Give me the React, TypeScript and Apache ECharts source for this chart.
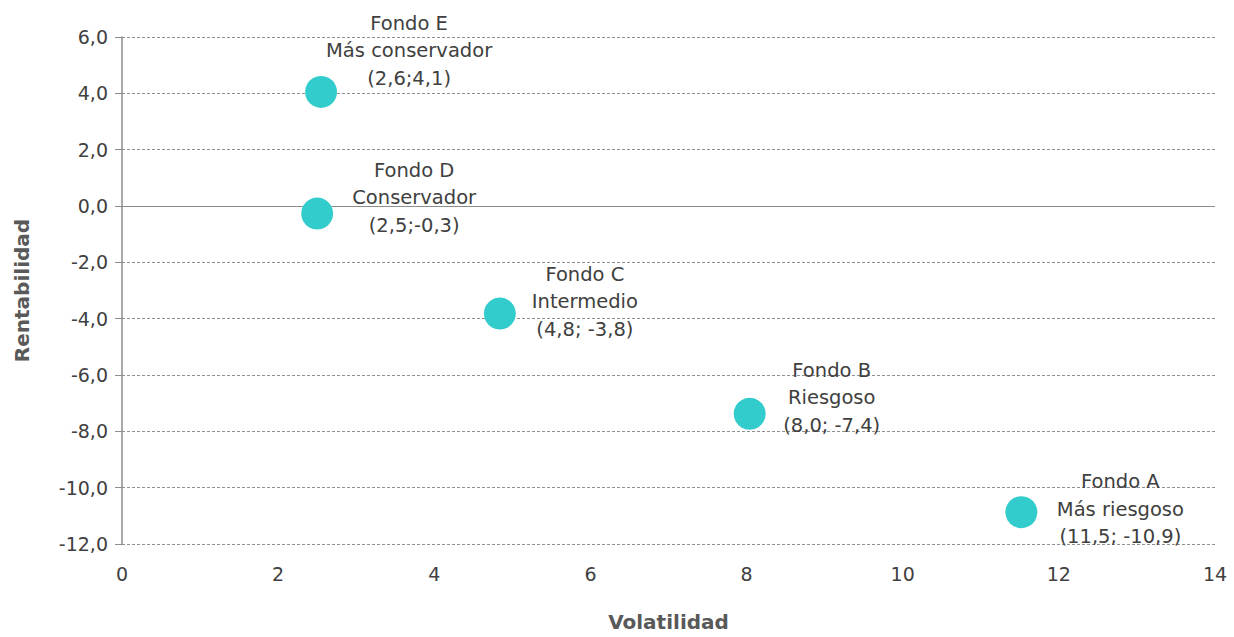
import React, { useEffect, useRef } from "react";
import * as echarts from "echarts";

const fundNames = ["Fondo E", "Fondo D", "Fondo C", "Fondo B", "Fondo A"];
const fundTypes = ["Más conservador", "Conservador", "Intermedio", "Riesgoso", "Más riesgoso"];
const fundCoords = ["(2,6;4,1)", "(2,5;-0,3)", "(4,8; -3,8)", "(8,0; -7,4)", "(11,5; -10,9)"];
const volatility = [2.55, 2.5, 4.84, 8.04, 11.52];
const returns = [4.05, -0.27, -3.82, -7.38, -10.87];
const labelOffsets = [[88, -41], [97, -16], [85, -12], [82, -16], [99, -3]];

const FONT = "'DejaVu Sans', sans-serif";

export default function App() {
  const ref = useRef<HTMLDivElement>(null);
  useEffect(() => {
    if (!ref.current) return;
    const chart = echarts.init(ref.current, undefined, { renderer: "svg" });
    const data = volatility.map((v, i) => ({
      value: [v, returns[i]],
      label: {
        show: true,
        position: "inside",
        offset: labelOffsets[i],
        align: "center",
        verticalAlign: "middle",
        formatter: `${fundNames[i]}\n${fundTypes[i]}\n${fundCoords[i]}`,
        color: "#404040",
        fontSize: 19.5,
        lineHeight: 27.5,
        fontFamily: FONT,
      },
    }));
    chart.setOption({
      animation: false,
      grid: { left: 122, right: 19, top: 37, bottom: 69, containLabel: false },
      xAxis: {
        type: "value",
        min: 0,
        max: 14,
        interval: 2,
        name: "Volatilidad",
        nameLocation: "middle",
        nameGap: 68,
        nameTextStyle: { fontSize: 20, fontWeight: "bold", color: "#595959", fontFamily: FONT },
        axisLine: { show: false },
        axisTick: { show: false },
        splitLine: { show: false },
        axisLabel: { fontSize: 19, color: "#404040", margin: 20, fontFamily: FONT },
      },
      yAxis: {
        type: "value",
        min: -12,
        max: 6,
        interval: 2,
        name: "Rentabilidad",
        nameLocation: "middle",
        nameGap: 90,
        nameRotate: 90,
        nameTextStyle: { fontSize: 20, fontWeight: "bold", color: "#595959", fontFamily: FONT },
        axisLine: { show: true, onZero: false, lineStyle: { color: "#8c8c8c", width: 1.5 } },
        axisTick: { show: true, length: 7, lineStyle: { color: "#8c8c8c" } },
        splitLine: { show: true, lineStyle: { color: "#8f8f8f", type: [3, 2], width: 1 } },
        axisLabel: {
          fontSize: 19,
          color: "#404040",
          margin: 14,
          fontFamily: FONT,
          formatter: (v: number) => v.toFixed(1).replace(".", ","),
        },
      },
      series: [
        {
          type: "scatter",
          symbol: "circle",
          symbolSize: 32,
          itemStyle: { color: "#33CCCC", opacity: 1 },
          data,
          z: 3,
          markLine: {
            silent: true,
            symbol: "none",
            label: { show: false },
            lineStyle: { color: "#8c8c8c", type: "solid", width: 1.2 },
            data: [{ yAxis: 0 }],
            z: 1,
          },
        },
      ],
    });
    return () => chart.dispose();
  }, []);
  return (
    <div
      ref={ref}
      style={{ width: 1234, height: 637, position: "absolute", left: 0, top: 0, background: "#fff" }}
    />
  );
}
